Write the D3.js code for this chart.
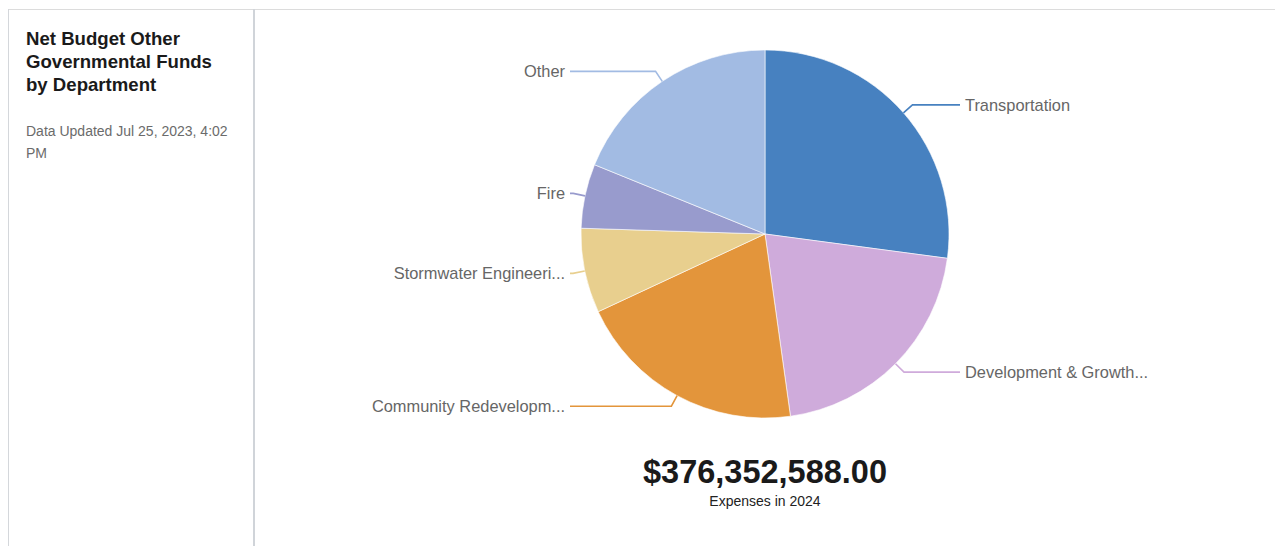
<!DOCTYPE html>
<html>
<head>
<meta charset="utf-8">
<script src="https://cdn.jsdelivr.net/npm/d3@7"></script>
<style>
  html, body { margin: 0; padding: 0; background: #fff; }
  svg { display: block; font-family: "Liberation Sans", Arial, Helvetica, sans-serif; }
</style>
</head>
<body>
<svg id="chart" width="1275" height="546"></svg>
<script>
// Net budget of other governmental funds, by department (2024 expenses)
const departments = [
  "Transportation",
  "Development & Growth...",
  "Community Redevelopm...",
  "Stormwater Engineeri...",
  "Fire",
  "Other"
];
const amounts = [102030000, 77830000, 76290000, 28000000, 21230000, 70972588];
const sliceColors = ["#4781c0", "#cfabdb", "#e3953b", "#e8cf8e", "#989bcd", "#a2bbe3"];
const titleLines = ["Net Budget Other", "Governmental Funds", "by Department"];
const updatedLines = ["Data Updated Jul 25, 2023, 4:02", "PM"];
const totalCaption = "Expenses in 2024";

const svg = d3.select("#chart");

// Card frame: top rule, left edge and the divider between side panel and chart
svg.append("line").attr("x1", 8).attr("x2", 1275).attr("y1", 9.5).attr("y2", 9.5)
  .attr("stroke", "#dcdcdc").attr("stroke-width", 1);
svg.append("line").attr("x1", 8.5).attr("x2", 8.5).attr("y1", 9).attr("y2", 546)
  .attr("stroke", "#d4d7db").attr("stroke-width", 1);
svg.append("line").attr("x1", 254).attr("x2", 254).attr("y1", 9).attr("y2", 546)
  .attr("stroke", "#d0d4d9").attr("stroke-width", 2);

// Side panel text
const title = svg.append("text").attr("x", 26).attr("fill", "#1a1a1a")
  .attr("font-size", "18.6px").attr("font-weight", "bold");
title.selectAll("tspan").data(titleLines).join("tspan")
  .attr("x", 26).attr("y", (d, i) => 44.5 + i * 23).text(d => d);

const updated = svg.append("text").attr("fill", "#6b6b6b").attr("font-size", "14px");
updated.selectAll("tspan").data(updatedLines).join("tspan")
  .attr("x", 26).attr("y", (d, i) => 136 + i * 22).text(d => d);

// Pie
const cx = 765, cy = 234, radius = 184;
const g = svg.append("g").attr("transform", `translate(${cx},${cy})`);

const data = departments.map((name, i) => ({ name, value: amounts[i], color: sliceColors[i] }));
const pie = d3.pie().value(d => d.value).sort(null);
const arcs = pie(data);
const arc = d3.arc().innerRadius(0).outerRadius(radius);

g.selectAll("path.slice").data(arcs).join("path")
  .attr("class", "slice")
  .attr("d", arc)
  .attr("fill", d => d.data.color)
  .attr("stroke", "#fff")
  .attr("stroke-width", 0.6);

// Leader lines and labels
const elbowR = radius + 12;
const lineEnd = radius + 11;
const labelGap = 5;
const pt = (angle, r) => [Math.sin(angle) * r, -Math.cos(angle) * r];

arcs.forEach(a => {
  const mid = (a.startAngle + a.endAngle) / 2;
  const right = Math.sin(mid) >= 0;
  const p0 = pt(mid, radius);
  const p1 = pt(mid, elbowR);
  const xEnd = right ? lineEnd : -lineEnd;
  g.append("path")
    .attr("d", d3.line()([p0, p1, [xEnd, p1[1]]]))
    .attr("fill", "none")
    .attr("stroke", a.data.color)
    .attr("stroke-width", 1.6);
  g.append("text")
    .attr("x", right ? xEnd + labelGap : xEnd - labelGap)
    .attr("y", p1[1])
    .attr("dy", "0.35em")
    .attr("text-anchor", right ? "start" : "end")
    .attr("font-size", "16.4px")
    .attr("fill", "#666")
    .text(a.data.name);
});

// Total below the pie
const total = d3.sum(amounts);
svg.append("text").attr("x", cx).attr("y", 483).attr("text-anchor", "middle")
  .attr("font-size", "32.5px").attr("font-weight", "bold").attr("fill", "#1a1a1a")
  .text("$" + d3.format(",.2f")(total));
svg.append("text").attr("x", cx).attr("y", 506).attr("text-anchor", "middle")
  .attr("font-size", "14px").attr("fill", "#222")
  .text(totalCaption);
</script>
</body>
</html>
